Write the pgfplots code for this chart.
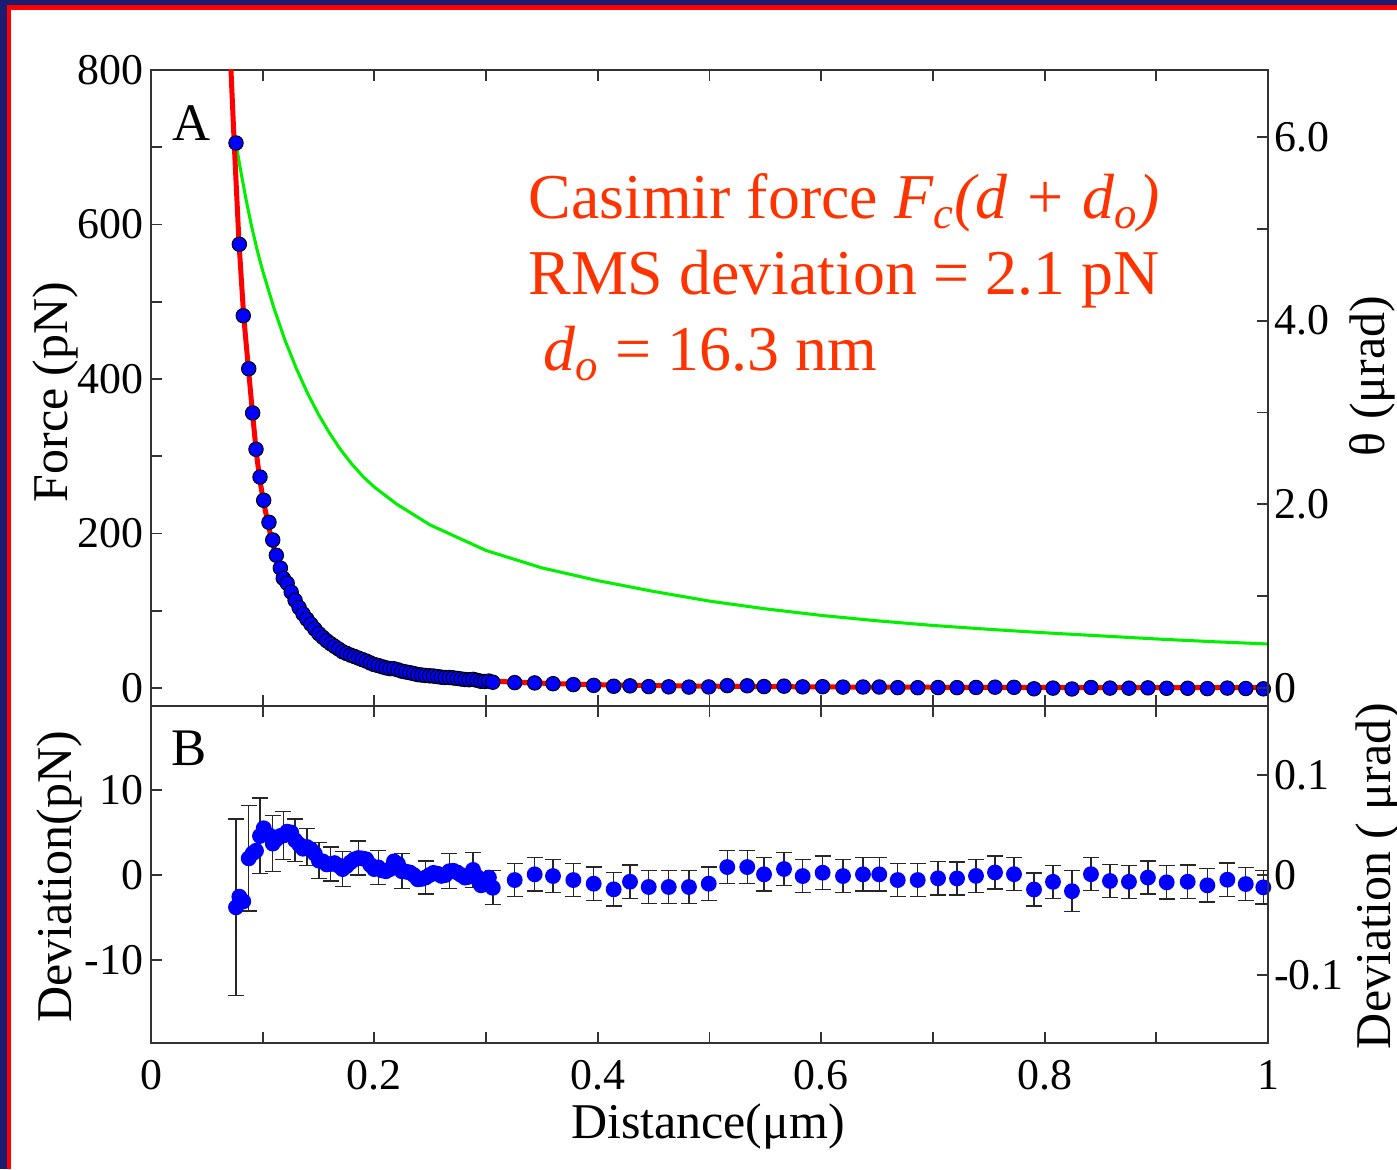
\documentclass[border=0pt]{standalone}
\usepackage{pgfplots}
\pgfplotsset{compat=1.18}
\usepackage{fontspec}
\setmainfont{Liberation Serif}
\definecolor{navyframe}{RGB}{28,28,112}
\definecolor{txtred}{RGB}{255,51,0}
\definecolor{fitred}{RGB}{255,0,0}
\definecolor{thgreen}{RGB}{0,240,0}
\definecolor{dotblue}{RGB}{0,0,255}
\pgfplotsset{panel/.style={
  scale only axis, width=402.12pt, xmin=0, xmax=1,
  axis line style={black!80, line width=0.7pt},
  every tick/.style={black!80, line width=0.7pt},
  tick align=inside, major tick length=4pt, minor tick length=4pt,
  tick label style={font=\fontsize{15.8}{18}\selectfont, inner sep=0pt},
  xtick={0,0.2,0.4,0.6,0.8,1}, minor xtick={0.1,0.3,0.5,0.7,0.9},
}}
\begin{document}
\begin{tikzpicture}
\useasboundingbox (0,0) rectangle (502.92pt,-420.84pt);
\fill[white] (0,0) rectangle (502.92pt,-420.84pt);
\fill[navyframe] (0,0) rectangle (502.92pt,-1.8pt);
\fill[navyframe] (0,0) rectangle (2.52pt,-420.84pt);
\fill[red] (2.52pt,-1.8pt) rectangle (502.92pt,-3.6pt);
\fill[red] (2.52pt,-1.8pt) rectangle (3.96pt,-420.84pt);

% ---------------- top panel (force) ----------------
\begin{axis}[panel, at={(54.36pt,-254.16pt)}, anchor=south west, height=228.96pt,
  ymin=-23.3, ymax=800, xticklabel=\empty,
  ytick={0,200,400,600,800}, yticklabels={0,200,400,600,800},
  minor ytick={100,300,500,700}, ytick pos=left,
  yticklabel style={xshift=-2.6pt}]
\addplot[thgreen, line width=1.1pt, no marks] coordinates {
(0.0761,705) (0.08,672) (0.085,633) (0.09,598) (0.095,567) (0.1,540) (0.11,492)
(0.12,450) (0.13,414) (0.14,382) (0.15,354) (0.16,329.5) (0.17,308) (0.18,289.5)
(0.19,273.5) (0.2,260) (0.22,238) (0.25,211) (0.3,178) (0.35,155.5) (0.4,139)
(0.45,125) (0.5,112.5) (0.55,102.5) (0.6,94) (0.65,87) (0.7,81) (0.75,76)
(0.8,71.5) (0.85,67.5) (0.9,63.5) (0.95,60) (1.0,57)};
\addplot[only marks, mark=*, mark size=2.6pt, mark options={fill=dotblue, draw=black, line width=0.35pt}] coordinates {
(0.0761,705.5) (0.0791,574.4) (0.0826,481.9) (0.0875,413.3) (0.0910,356.0) (0.0940,309.0)
(0.0976,273.1) (0.1009,243.0) (0.1056,214.5) (0.1090,191.6) (0.1122,171.8) (0.1158,155.3)
(0.1184,142.0) (0.1219,135.7) (0.1255,124.2) (0.1290,113.5) (0.1326,104.1) (0.1361,95.9)
(0.1396,89.1) (0.1432,82.5) (0.1467,76.3) (0.1503,70.3) (0.1538,65.6) (0.1573,61.2)
(0.1609,57.3) (0.1644,53.9) (0.1680,50.4) (0.1715,47.0) (0.1750,44.8) (0.1786,42.6)
(0.1821,40.8) (0.1857,38.7) (0.1892,36.8) (0.1927,34.9) (0.1963,32.5) (0.1998,30.4)
(0.2034,29.1) (0.2069,27.5) (0.2104,26.1) (0.2140,25.1) (0.2175,24.9) (0.2211,23.5)
(0.2246,21.8) (0.2281,20.8) (0.2317,19.8) (0.2352,18.7) (0.2388,17.4) (0.2423,16.8)
(0.2458,16.2) (0.2494,15.8) (0.2529,15.5) (0.2565,14.8) (0.2600,14.0) (0.2635,13.6)
(0.2671,13.6) (0.2706,13.1) (0.2742,12.4) (0.2777,11.7) (0.2812,11.0) (0.2848,10.7)
(0.2883,11.2) (0.2919,10.0) (0.2954,8.7) (0.2989,8.5) (0.3025,9.0) (0.3060,7.5)
(0.3256,7.0) (0.3435,6.6) (0.3599,5.6) (0.3781,4.4) (0.3963,3.4) (0.4142,2.3)
(0.4288,2.8) (0.4456,1.8) (0.4635,1.5) (0.4816,1.2) (0.4993,1.4) (0.5159,3.1)
(0.5338,2.9) (0.5488,1.9) (0.5667,2.4) (0.5834,1.5) (0.6013,1.7) (0.6195,1.2)
(0.6374,1.3) (0.6520,1.3) (0.6685,0.5) (0.6864,0.4) (0.7046,0.6) (0.7216,0.5)
(0.7386,0.75) (0.7556,1.1) (0.7726,0.9) (0.7905,-1.0) (0.8075,-0.1) (0.8245,-1.25)
(0.8415,0.7) (0.8585,-0.1) (0.8755,-0.2) (0.8925,0.2) (0.9093,-0.35) (0.9281,-0.3)
(0.9457,-0.75) (0.9636,-0.1) (0.9801,-0.65) (0.9958,-1.05)};
\addplot[fitred, line width=1.8pt, no marks] coordinates {
(0.0712,812) (0.0716,800) (0.0745,705) (0.0788,576) (0.0830,481) (0.0875,409) (0.0911,352)
(0.0946,301) (0.0976,268) (0.1009,240) (0.1056,207) (0.1090,186.6) (0.1122,170)
(0.1158,153.7) (0.1184,143.3) (0.1219,130.6) (0.1255,119.2) (0.1290,109.4) (0.1326,100.5)
(0.1361,92.8) (0.1396,85.8) (0.1432,79.5) (0.1467,73.8) (0.1503,68.6) (0.1538,64.0)
(0.1573,59.9) (0.1609,56.0) (0.1644,52.5) (0.1680,49.3) (0.1715,46.3) (0.1750,43.7)
(0.1786,41.1) (0.1821,38.9) (0.1857,36.7) (0.1892,34.8) (0.1927,33.0) (0.1963,31.3)
(0.1998,29.7) (0.2034,28.2) (0.2069,26.9) (0.2104,25.6) (0.2140,24.4) (0.2175,23.3)
(0.2211,22.2) (0.2246,21.3) (0.2281,20.4) (0.2317,19.5) (0.2352,18.7) (0.2388,17.9)
(0.2423,17.2) (0.2458,16.5) (0.2494,15.8) (0.2529,15.2) (0.2565,14.6) (0.2600,14.1)
(0.2635,13.6) (0.2671,13.1) (0.2706,12.6) (0.2742,12.1) (0.2777,11.7) (0.2812,11.3)
(0.2848,10.9) (0.2883,10.6) (0.2919,10.2) (0.2954,9.9) (0.2989,9.6) (0.3025,9.3)
(0.3060,9.0) (0.3256,7.56) (0.3435,6.53) (0.3599,5.75) (0.3781,5.03) (0.3963,4.43)
(0.4142,3.93) (0.4456,3.23) (0.4816,2.62) (0.5159,2.18) (0.5488,1.85) (0.5834,1.57)
(0.6195,1.34) (0.6520,1.17) (0.7046,0.96) (0.7556,0.80) (0.8075,0.68) (0.8585,0.59)
(0.9093,0.51) (0.9636,0.44) (1.0,0.40)};
\end{axis}
\begin{axis}[panel, at={(54.36pt,-254.16pt)}, anchor=south west, height=228.96pt,
  ymin=-0.196, ymax=6.7296, hide x axis, axis y line*=right,
  ytick={0,2,4,6}, yticklabels={0,2.0,4.0,6.0}, minor ytick={1,3,5},
  yticklabel style={xshift=2pt}]
\addplot[draw=none] coordinates {(0.5,1)};
\end{axis}

% ---------------- bottom panel (deviation) ----------------
\begin{axis}[panel, at={(54.36pt,-375.48pt)}, anchor=south west, height=121.32pt,
  ymin=-19.76, ymax=19.88,
  xticklabels={0,0.2,0.4,0.6,0.8,1}, xticklabel style={yshift=-6pt},
  ytick={-10,0,10}, yticklabels={-10,0,10}, ytick pos=left,
  yticklabel style={xshift=-2.6pt}]
\addplot[only marks, mark=*, mark size=2.65pt, color=dotblue] coordinates {
(0.0791,-2.55) (0.0826,-3.1) (0.0910,2.55) (0.0940,2.85) (0.1009,5.5) (0.1056,4.7)
(0.1122,4.2) (0.1158,4.6) (0.1219,5.1) (0.1255,5.0) (0.1326,3.6) (0.1361,3.1)
(0.1432,3.0) (0.1467,2.5) (0.1538,1.6) (0.1573,1.25) (0.1644,1.4) (0.1680,1.1)
(0.1750,1.05) (0.1786,1.5) (0.1821,1.85) (0.1892,1.95) (0.1927,1.85) (0.1963,1.2)
(0.1998,0.7) (0.2069,0.55) (0.2104,0.45) (0.2140,0.7) (0.2175,1.6) (0.2211,1.3)
(0.2281,0.4) (0.2317,0.3) (0.2352,0.0) (0.2388,-0.5) (0.2423,-0.45) (0.2494,0.0)
(0.2529,0.25) (0.2565,0.15) (0.2600,-0.1) (0.2635,0.0) (0.2706,0.5) (0.2742,0.3)
(0.2777,0.0) (0.2812,-0.3) (0.2848,-0.2) (0.2919,-0.2) (0.2954,-1.2) (0.2989,-1.1)
(0.3025,-0.3)};
\addplot[only marks, mark=*, mark size=2.65pt, color=dotblue,
  error bars/.cd, y dir=both, y explicit,
  error bar style={black!85, line width=0.5pt},
  error mark options={rotate=90, black!85, mark size=2.9pt, line width=0.5pt}] coordinates {
(0.0761,-3.8) +- (0,10.4) (0.0875,1.96) +- (0,6.2) (0.0976,4.6) +- (0,4.45)
(0.1090,3.7) +- (0,3.3) (0.1184,4.65) +- (0,2.8) (0.1290,4.1) +- (0,2.5)
(0.1396,3.3) +- (0,2.2) (0.1503,1.7) +- (0,2.1) (0.1609,1.3) +- (0,2.0)
(0.1715,0.7) +- (0,2.05) (0.1857,2.0) +- (0,2.0) (0.2034,0.9) +- (0,2.0)
(0.2246,0.45) +- (0,2.05) (0.2458,-0.3) +- (0,1.95) (0.2671,0.45) +- (0,2.05)
(0.2883,0.6) +- (0,2.05) (0.3060,-1.5) +- (0,2.0)
(0.3256,-0.59) +- (0,1.95) (0.3435,0.08) +- (0,1.95) (0.3599,-0.12) +- (0,1.95)
(0.3781,-0.59) +- (0,1.95) (0.3963,-1.02) +- (0,1.95) (0.4142,-1.68) +- (0,1.95)
(0.4288,-0.79) +- (0,1.95) (0.4456,-1.41) +- (0,1.95) (0.4635,-1.41) +- (0,1.95)
(0.4816,-1.41) +- (0,1.95) (0.4993,-1.02) +- (0,1.95) (0.5159,0.94) +- (0,1.95)
(0.5338,0.94) +- (0,1.95) (0.5488,0.08) +- (0,1.95) (0.5667,0.71) +- (0,1.95)
(0.5834,-0.12) +- (0,1.95) (0.6013,0.27) +- (0,1.95) (0.6195,-0.12) +- (0,1.95)
(0.6374,0.08) +- (0,1.95) (0.6520,0.08) +- (0,1.95) (0.6685,-0.59) +- (0,1.95)
(0.6864,-0.59) +- (0,1.95) (0.7046,-0.39) +- (0,1.95) (0.7216,-0.4) +- (0,1.95)
(0.7386,-0.1) +- (0,1.95) (0.7556,0.3) +- (0,1.95) (0.7726,0.1) +- (0,1.95)
(0.7905,-1.7) +- (0,1.95) (0.8075,-0.8) +- (0,1.95) (0.8245,-1.9) +- (0,2.4)
(0.8415,0.1) +- (0,1.95) (0.8585,-0.7) +- (0,1.95) (0.8755,-0.8) +- (0,1.95)
(0.8925,-0.3) +- (0,1.95) (0.9093,-0.86) +- (0,1.95) (0.9281,-0.79) +- (0,1.95)
(0.9457,-1.21) +- (0,1.95) (0.9636,-0.55) +- (0,1.95) (0.9801,-1.06) +- (0,1.95)
(0.9958,-1.45) +- (0,1.95)};
\end{axis}
\begin{axis}[panel, at={(54.36pt,-375.48pt)}, anchor=south west, height=121.32pt,
  ymin=-0.168, ymax=0.169, hide x axis, axis y line*=right,
  ytick={-0.1,0,0.1}, yticklabels={-0.1,0,0.1},
  yticklabel style={xshift=2pt}]
\addplot[draw=none] coordinates {(0.5,0)};
\end{axis}

% ---------------- labels ----------------
\node[anchor=base, rotate=90, inner sep=0pt, font=\fontsize{18}{20}\selectfont] at (24.12pt,-141.12pt) {Force (pN)};
\node[anchor=base, rotate=90, inner sep=0pt, font=\fontsize{18}{20}\selectfont] at (25.92pt,-315.72pt) {Deviation(pN)};
\node[anchor=base, rotate=90, inner sep=0pt, font=\fontsize{18}{20}\selectfont] at (498.24pt,-135.36pt) {θ (μrad)};
\node[anchor=base, rotate=90, inner sep=0pt, font=\fontsize{18}{20}\selectfont] at (500.4pt,-315.36pt) {Deviation ( μrad)};
\node[anchor=base, inner sep=0pt, font=\fontsize{18}{20}\selectfont] at (254.88pt,-409.68pt) {Distance(μm)};
\node[anchor=base, inner sep=0pt, font=\fontsize{19}{21}\selectfont] at (69.12pt,-50.4pt) {A};
\node[anchor=base, inner sep=0pt, font=\fontsize{19}{21}\selectfont] at (68.04pt,-275.65pt) {B};
\node[anchor=base west, inner sep=0pt, text=txtred, font=\fontsize{23}{26}\selectfont] at (190.08pt,-78.48pt) {Casimir force \textit{F\textsubscript{c}(d + d\textsubscript{o})}};
\node[anchor=base west, inner sep=0pt, text=txtred, font=\fontsize{23}{26}\selectfont] at (190.08pt,-105.84pt) {RMS deviation = 2.1 pN};
\node[anchor=base west, inner sep=0pt, text=txtred, font=\fontsize{23}{26}\selectfont] at (195.48pt,-133.2pt) {\textit{d}\textsubscript{\textit{o}} = 16.3 nm};
\end{tikzpicture}
\end{document}
